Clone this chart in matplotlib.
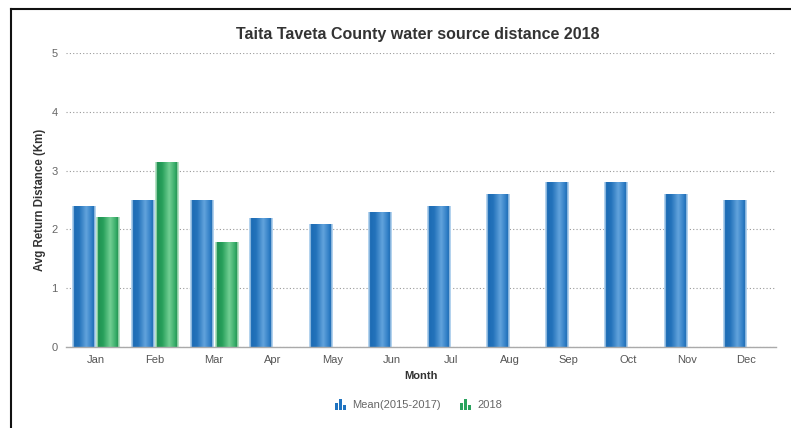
import numpy as np
import matplotlib
matplotlib.use("Agg")
import matplotlib.pyplot as plt
from matplotlib.colors import LinearSegmentedColormap
from matplotlib.patches import Rectangle
from matplotlib.lines import Line2D

months = ["Jan", "Feb", "Mar", "Apr", "May", "Jun", "Jul", "Aug", "Sep", "Oct", "Nov", "Dec"]
mean_2015_2017 = [2.4, 2.5, 2.5, 2.2, 2.1, 2.3, 2.4, 2.6, 2.8, 2.8, 2.6, 2.5]
values_2018 = [2.21, 3.15, 1.79]
series_names = ["Mean(2015-2017)", "2018"]

plt.rcParams['font.family'] = ['Liberation Sans', 'DejaVu Sans']

W, H = 791, 428
fig = plt.figure(figsize=(W / 100, H / 100), dpi=100)
ax = fig.add_axes([66 / W, 1 - 347 / H, 710 / W, (347 - 53) / H])

x = np.arange(len(months))
bw = 0.39
gap = 0.02
b1 = ax.bar(x - bw / 2 - gap / 2, mean_2015_2017, width=bw, color='none', edgecolor='none')
b2 = ax.bar(x[:len(values_2018)] + bw / 2 + gap / 2, values_2018, width=bw, color='none', edgecolor='none')

blue_cmap = LinearSegmentedColormap.from_list('b', [
    (0.0, '#b4d3ee'), (0.06, '#b4d3ee'), (0.08, '#1c6bb4'), (0.3, '#2473bb'),
    (0.6, '#62a3dc'), (0.85, '#2d7cc4'), (0.92, '#1b69b1'), (0.94, '#b4d3ee'), (1.0, '#b4d3ee')])
green_cmap = LinearSegmentedColormap.from_list('g', [
    (0.0, '#b6e3c4'), (0.06, '#b6e3c4'), (0.08, '#1f9150'), (0.3, '#28a05b'),
    (0.6, '#72cf93'), (0.85, '#34aa66'), (0.92, '#1f8f4e'), (0.94, '#b6e3c4'), (1.0, '#b6e3c4')])
grad = np.linspace(0, 1, 128).reshape(1, -1)

def shade(bars, cmap):
    for r in bars:
        x0, y0 = r.get_x(), r.get_y()
        w, h = r.get_width(), r.get_height()
        im = ax.imshow(grad, cmap=cmap, aspect='auto', extent=[x0, x0 + w, y0, y0 + h],
                       zorder=3, interpolation='bilinear')
        clip = Rectangle((x0, y0), w, h, transform=ax.transData, facecolor='none', edgecolor='none')
        ax.add_patch(clip)
        im.set_clip_path(clip)

shade(b1, blue_cmap)
shade(b2, green_cmap)

ax.set_xlim(-0.5, len(months) - 0.5)
ax.set_ylim(0, 5)
ax.set_yticks([0, 1, 2, 3, 4, 5])
ax.set_xticks(x)
ax.set_xticklabels(months)
ax.tick_params(axis='both', length=0, labelsize=8, colors='#555555')
ax.tick_params(axis='x', pad=6)
ax.tick_params(axis='y', pad=6)
for lbl in ax.get_yticklabels():
    lbl.set_color('#666666')
ax.yaxis.grid(True, linestyle=(0, (1, 2)), color='#999999', linewidth=0.8)
ax.set_axisbelow(True)
for s in ['top', 'right', 'left']:
    ax.spines[s].set_visible(False)
ax.spines['bottom'].set_color('#aaaaaa')
ax.spines['bottom'].set_linewidth(1)
ax.spines['bottom'].set_zorder(5)

ax.set_xlabel('Month', fontsize=8, fontweight='bold', color='#333333', labelpad=4)
ax.set_ylabel('Avg Return Distance (Km)', fontsize=8.3, fontweight='bold', color='#333333', labelpad=4)

fig.text(418 / W, 1 - 34 / H, 'Taita Taveta County water source distance 2018',
         ha='center', va='center', fontsize=11.5, fontweight='bold', color='#333333')

# border lines
fig.add_artist(Line2D([11 / W, 11 / W], [0, 1 - 9 / H], transform=fig.transFigure, color='#111111', lw=1.5))
fig.add_artist(Line2D([11 / W, 1], [1 - 9 / H, 1 - 9 / H], transform=fig.transFigure, color='#111111', lw=1.5))

# legend
def legend_icon(px, color):
    heights = [7, 11, 5]
    for i, h in enumerate(heights):
        fig.add_artist(Rectangle(((px + i * 4) / W, 1 - 410 / H), 2.6 / W, h / H,
                                 transform=fig.transFigure, facecolor=color, edgecolor='none'))

legend_icon(335, '#1f73c0')
fig.text(352 / W, 1 - 405 / H, series_names[0], ha='left', va='center', fontsize=8, color='#666666')
legend_icon(460, '#2aa35e')
fig.text(477 / W, 1 - 405 / H, series_names[1], ha='left', va='center', fontsize=8, color='#666666')

fig.savefig('out.png', dpi=100)
